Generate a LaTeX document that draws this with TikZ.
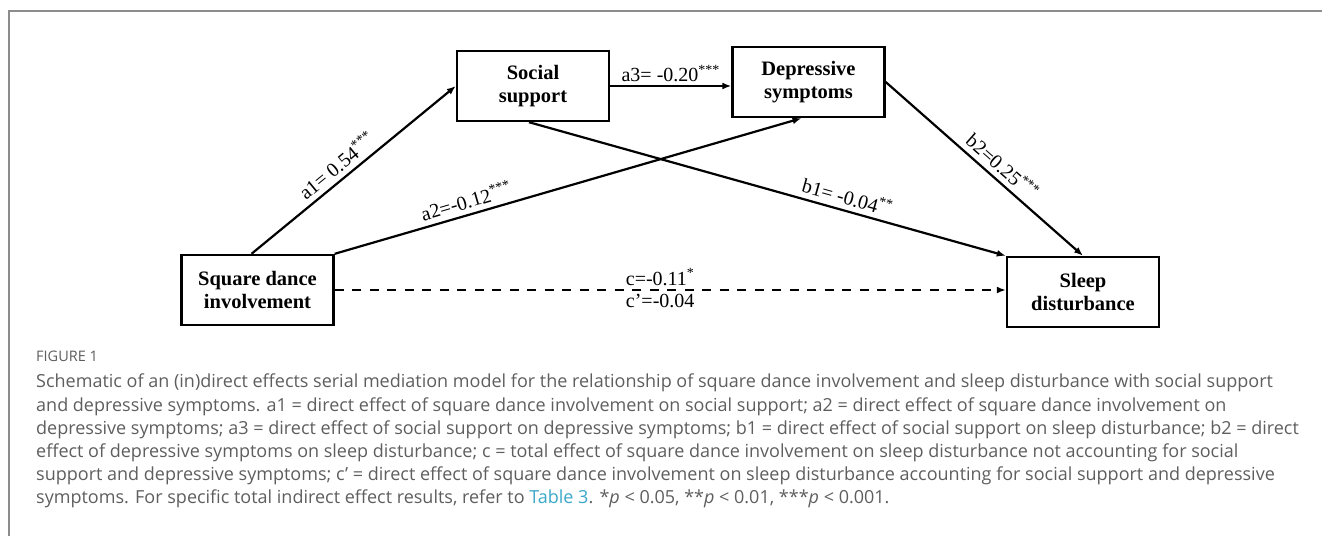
\documentclass[tikz,border=0pt]{standalone}
\usepackage{fontspec}
\setmainfont{Liberation Serif}
\newfontfamily\capfont{Open Sans}
\usepackage{xcolor}
\usetikzlibrary{arrows.meta,positioning,calc}
\definecolor{capgray}{HTML}{5E5E5E}
\definecolor{framegray}{HTML}{8C8C8C}
\definecolor{tablink}{HTML}{3AA8C8}

\begin{document}
\begin{tikzpicture}[x = 1pt, y = -1pt,
  var/.style = {draw, line width=2.4pt, minimum width=152pt, minimum height=70pt,
    align=center, inner sep=0pt, font=\fontsize{20.5}{23}\selectfont\bfseries},
  effect/.style = {-{Latex[length=9pt,width=7pt]}, line width=2.2pt},
  coef/.style = {font=\fontsize{20}{23}\selectfont, inner sep=5pt}]
\useasboundingbox (0,0) rectangle (1322,536);
\draw[framegray, line width=1.3pt] (1322,11) -- (9,11) -- (9,536);
\node[var] (sdi) at (257.5,290) {Square dance\\involvement};
\node[var] (ss) at (533,86) {Social\\support};
\node[var] (ds) at (808.5,82) {Depressive\\symptoms};
\node[var] (sd) at (1083,292) {Sleep\\disturbance};
\draw[effect] ([xshift=-6pt]sdi.north) -- node[coef, sloped, above, pos=.46] {a1= 0.54\textsuperscript{***}} (ss.west);
\draw[effect] (sdi.north east) -- node[coef, sloped, above, pos=.29] {a2=-0.12\textsuperscript{***}} ([xshift=-7pt]ds.south);
\draw[effect] (ss.east) -- node[coef, above, inner sep=3pt] {a3= -0.20\textsuperscript{***}} (ss.east -| ds.west);
\draw[effect] ([xshift=-4pt]ss.south) -- node[coef, sloped, above, pos=.66] {b1= -0.04\textsuperscript{**}} (sd.north west);
\draw[effect] (ds.east) -- node[coef, sloped, above, pos=.545] {b2=0.25\textsuperscript{***}} (sd.north);
\draw[effect, line width=2.6pt, dash pattern=on 9pt off 8.5pt] (sdi.east) -- node[coef, above, pos=.485, inner sep=3pt] {c=-0.11\textsuperscript{*}}
  node[coef, below, pos=.485, inner sep=3pt] {c’=-0.04} (sdi.east -| sd.west);
% caption
\node[anchor=north west, inner sep=0pt, text=capgray,
  font=\capfont\fontsize{14.5}{15}\selectfont] (fig) at (36,351) {FIGURE 1};
\node[anchor=north west, inner sep=0pt, align=left, text=capgray,
  font=\capfont\fontsize{18}{23.1}\selectfont] (cap) at (36,374) {Schematic of an (in)direct effects serial mediation model for the relationship of square dance involvement and sleep disturbance with social support\\
and depressive symptoms. a1 = direct effect of square dance involvement on social support; a2 = direct effect of square dance involvement on\\
depressive symptoms; a3 = direct effect of social support on depressive symptoms; b1 = direct effect of social support on sleep disturbance; b2 = direct\\
effect of depressive symptoms on sleep disturbance; c = total effect of square dance involvement on sleep disturbance not accounting for social\\
support and depressive symptoms; c’ = direct effect of square dance involvement on sleep disturbance accounting for social support and depressive\\
symptoms. For specific total indirect effect results, refer to \textcolor{tablink}{Table 3}. *\textit{p} < 0.05, **\textit{p} < 0.01, ***\textit{p} < 0.001.};
\end{tikzpicture}
\end{document}
